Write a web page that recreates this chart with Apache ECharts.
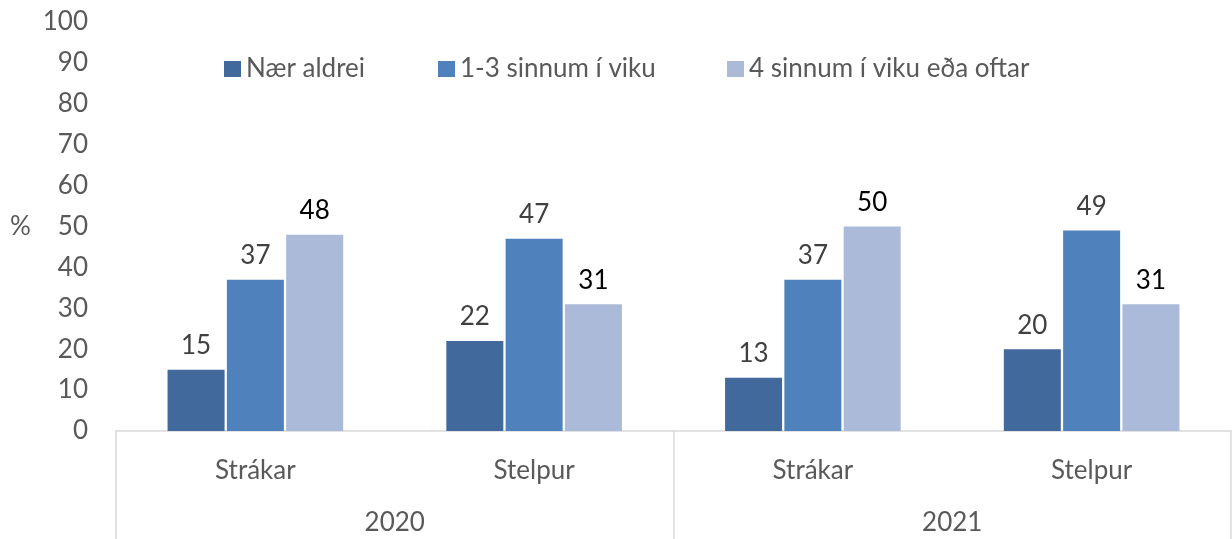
<!DOCTYPE html>
<html>
<head>
<meta charset="utf-8">
<script src="https://cdn.jsdelivr.net/npm/echarts@6/dist/echarts.min.js"></script>
<style>
  html, body { margin: 0; padding: 0; background: #fff; }
  #chart { width: 1232px; height: 539px; }
</style>
</head>
<body>
<div id="chart"></div>
<script>
  // gögn lesin af myndinni
  var groups = ["Strákar", "Stelpur", "Strákar", "Stelpur"];
  var years = ["2020", "2021"];
  var seriesNames = ["Nær aldrei", "1-3 sinnum í viku", "4 sinnum í viku eða oftar"];
  var naerAldrei = [15, 22, 13, 20];
  var einTilThrisvar = [37, 47, 37, 49];
  var fjorumSinnumEdaOftar = [48, 31, 50, 31];
  var yTicks = [0, 100, 10];

  var font = "Lato";
  var fontSize = 26;
  var colors = ["#41699b", "#4f81bd", "#abbad8"];
  var labelColors = ["#404040", "#404040", "#000000"];
  var legendLeft = [219, 433, 722];

  var chart = echarts.init(document.getElementById("chart"), null, {renderer: "canvas"});

  var makeSeries = function (name, values, i) {
    return {
      name: name,
      type: "bar",
      xAxisIndex: 0,
      data: values,
      barGap: "4%",
      barCategoryGap: "37%",
      itemStyle: {color: colors[i]},
      label: {
        show: true,
        position: "top",
        distance: 11,
        color: labelColors[i],
        fontFamily: font,
        fontSize: fontSize
      }
    };
  };

  // ein skýring fyrir hverja röð, eins og í Excel
  var makeLegend = function (name, i) {
    return {
      data: [name],
      left: legendLeft[i],
      top: 51,
      itemWidth: 17,
      itemHeight: 16,
      icon: "rect",
      textStyle: {color: "#595959", fontFamily: font, fontSize: fontSize}
    };
  };

  var option = {
    animation: false,
    textStyle: {fontFamily: font},
    color: colors,
    grid: {left: 116, right: 1, top: 22, bottom: 108},
    legend: seriesNames.map(makeLegend),
    xAxis: [{
      type: "category",
      data: groups,
      position: "bottom",
      axisLine: {show: true, lineStyle: {color: "#d9d9d9", width: 1.5}},
      axisTick: {show: false},
      axisLabel: {color: "#595959", fontFamily: font, fontSize: fontSize, margin: 27}
    }, {
      type: "category",
      data: years,
      position: "bottom",
      axisLine: {show: false},
      axisTick: {show: true, length: 110, lineStyle: {color: "#d9d9d9", width: 1.5}},
      axisLabel: {color: "#595959", fontFamily: font, fontSize: fontSize, margin: 79}
    }],
    yAxis: {
      type: "value",
      min: yTicks[0],
      max: yTicks[1],
      interval: yTicks[2],
      axisLine: {show: false},
      axisTick: {show: false},
      splitLine: {show: false},
      axisLabel: {color: "#595959", fontFamily: font, fontSize: fontSize, margin: 28}
    },
    graphic: [{
      type: "text",
      left: 10,
      top: 214,
      style: {text: "%", fill: "#595959", font: fontSize + "px " + font}
    }],
    series: [
      makeSeries(seriesNames[0], naerAldrei, 0),
      makeSeries(seriesNames[1], einTilThrisvar, 1),
      makeSeries(seriesNames[2], fjorumSinnumEdaOftar, 2)
    ]
  };

  chart.setOption(option);
</script>
</body>
</html>
